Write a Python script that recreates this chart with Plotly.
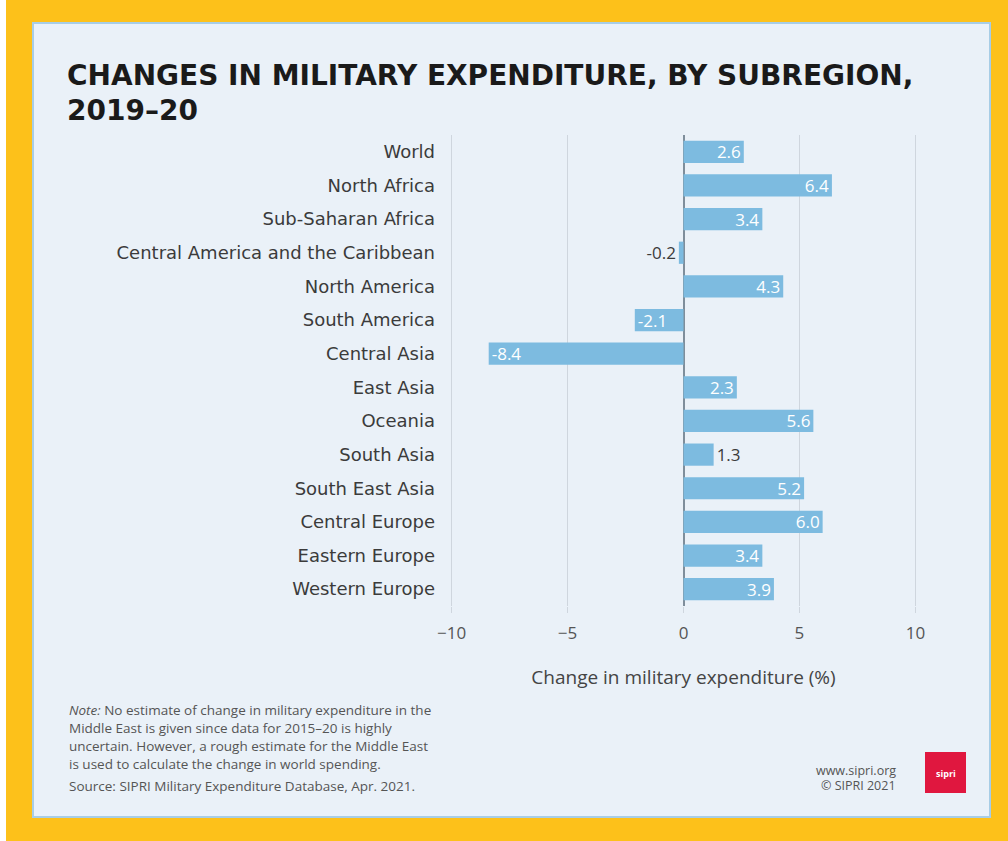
import plotly.graph_objects as go

# Subregions (top to bottom) and change in military expenditure, 2019-20 (%)
regions = [
    "World", "North Africa", "Sub-Saharan Africa",
    "Central America and the Caribbean", "North America", "South America",
    "Central Asia", "East Asia", "Oceania", "South Asia", "South East Asia",
    "Central Europe", "Eastern Europe", "Western Europe",
]
change_pct = [2.6, 6.4, 3.4, -0.2, 4.3, -2.1, -8.4, 2.3, 5.6, 1.3, 5.2, 6.0, 3.4, 3.9]
x_ticks = [-10, -5, 0, 5, 10]

title_line1 = "CHANGES IN MILITARY EXPENDITURE, BY SUBREGION,"
title_line2 = "2019\u201320"
note_lines = [
    "Note: No estimate of change in military expenditure in the",
    "Middle East is given since data for 2015\u201320 is highly",
    "uncertain. However, a rough estimate for the Middle East",
    "is used to calculate the change in world spending.",
]
source_line = "Source: SIPRI Military Expenditure Database, Apr. 2021."

# Figure geometry (pixels)
W, H = 1008, 841
L, R, T, B = 440, 81, 135, 235
PW, PH = W - L - R, H - T - B


def px(x):
    return (x - L) / PW


def py(y):
    return (H - B - y) / PH


BAR = "#7dbbe0"
TEXT = "#3b3b3b"
GRID = "#cfd6de"
FONT = "Open Sans"
LABEL_FONT = "DejaVu Sans"

positions = ["outside" if abs(v) < 2 else "inside" for v in change_pct]

fig = go.Figure(
    go.Bar(
        x=change_pct,
        y=regions,
        orientation="h",
        marker=dict(color=BAR, line=dict(width=0)),
        width=0.66,
        texttemplate="%{x:.1f}",
        textposition=positions,
        insidetextanchor="end",
        textangle=0,
        insidetextfont=dict(color="white", size=17, family=FONT),
        outsidetextfont=dict(color=TEXT, size=17, family=FONT),
        constraintext="none",
        cliponaxis=False,
        hoverinfo="skip",
    )
)

shapes = [
    # yellow frame
    dict(type="rect", xref="paper", yref="paper", x0=px(6), x1=px(W), y0=py(H), y1=py(0),
         fillcolor="#fdc11a", line=dict(width=0), layer="below"),
    # light panel
    dict(type="rect", xref="paper", yref="paper", x0=px(33), x1=px(990), y0=py(817), y1=py(23),
         fillcolor="#eaf1f8", line=dict(color="#a7cde6", width=2), layer="below"),
    # logo block
    dict(type="rect", xref="paper", yref="paper", x0=px(925), x1=px(966), y0=py(793), y1=py(752),
         fillcolor="#e0173f", line=dict(width=0), layer="above"),
]

annotations = [
    dict(text=f"<b>{title_line1}</b>", x=px(65), y=py(75), xref="paper", yref="paper",
         xanchor="left", yanchor="middle", showarrow=False,
         font=dict(family="DejaVu Sans", size=28, color="#1a1a1a")),
    dict(text=f"<b>{title_line2}</b>", x=px(65), y=py(110), xref="paper", yref="paper",
         xanchor="left", yanchor="middle", showarrow=False,
         font=dict(family="DejaVu Sans", size=28, color="#1a1a1a")),
]
for i, line in enumerate(note_lines):
    head, tail = line.split(":", 1) if i == 0 else ("", line)
    text = f"<i>{head}:</i>{tail}" if i == 0 else tail
    annotations.append(dict(text=text, x=px(67), y=py(710 + i * 18), xref="paper", yref="paper",
                            xanchor="left", yanchor="middle", showarrow=False,
                            font=dict(family=FONT, size=13.5, color="#555555")))
annotations.append(dict(text=source_line, x=px(67), y=py(786), xref="paper", yref="paper",
                        xanchor="left", yanchor="middle", showarrow=False,
                        font=dict(family=FONT, size=13.5, color="#555555")))
annotations += [
    dict(text="www.sipri.org", x=px(898), y=py(770), xref="paper", yref="paper",
         xanchor="right", yanchor="middle", showarrow=False,
         font=dict(family=FONT, size=12.5, color="#555555")),
    dict(text="\u00a9 SIPRI 2021", x=px(898), y=py(785), xref="paper", yref="paper",
         xanchor="right", yanchor="middle", showarrow=False,
         font=dict(family=FONT, size=12.5, color="#555555")),
    dict(text="<b>sipri</b>", x=px(945.5), y=py(773), xref="paper", yref="paper",
         xanchor="center", yanchor="middle", showarrow=False,
         font=dict(family=FONT, size=9, color="white")),
]

fig.update_layout(
    width=W, height=H,
    margin=dict(l=L, r=R, t=T, b=B, autoexpand=False),
    paper_bgcolor="white",
    plot_bgcolor="rgba(0,0,0,0)",
    showlegend=False,
    shapes=shapes,
    annotations=annotations,
    font=dict(family=FONT, color=TEXT),
    uniformtext=dict(minsize=8, mode="show"),
)

fig.update_xaxes(
    range=[-10.5, 10.5],
    tickvals=x_ticks,
    ticktext=[str(v).replace("-", "\u2212") for v in x_ticks],
    showgrid=True, gridcolor=GRID, gridwidth=1,
    zeroline=True, zerolinecolor="#7f8e9b", zerolinewidth=1.5,
    ticks="outside", ticklen=6, tickcolor=GRID,
    showline=False,
    tickfont=dict(size=17, color="#555555", family=FONT),
    ticklabelstandoff=6,
    title=dict(text="Change in military expenditure (%)",
               font=dict(size=19, color="#444444", family=FONT), standoff=27),
    fixedrange=True,
)
fig.update_yaxes(
    categoryorder="array", categoryarray=regions,
    autorange="reversed",
    showgrid=False, showline=False, ticks="",
    tickfont=dict(size=18, color=TEXT, family=LABEL_FONT),
    ticklabelstandoff=4,
    fixedrange=True,
)

fig.write_html("out.html")
